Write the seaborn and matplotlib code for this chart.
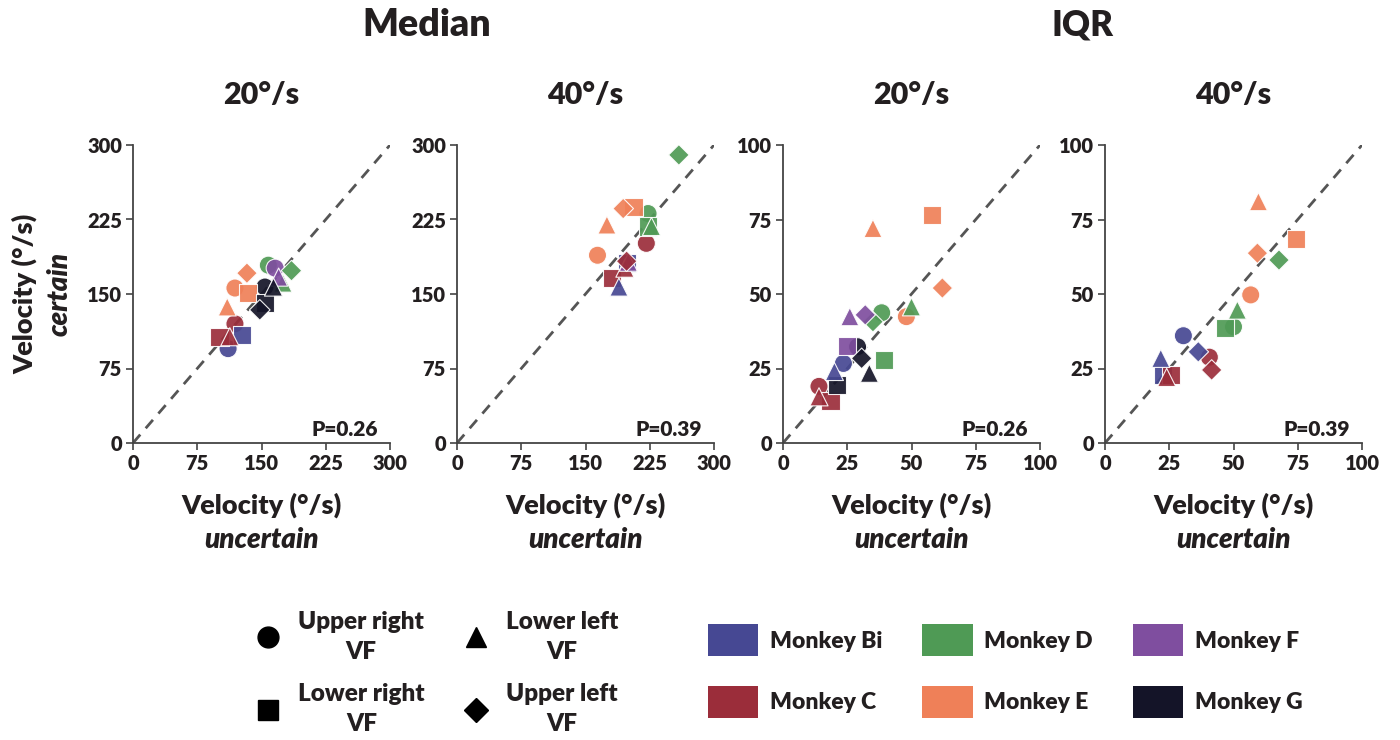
import numpy as np
import pandas as pd
import matplotlib
matplotlib.use("Agg")
import matplotlib.pyplot as plt
import seaborn as sns
from matplotlib.lines import Line2D
from matplotlib.patches import Patch

# ---------------- data ----------------
monkeys = ["Monkey Bi", "Monkey C", "Monkey D", "Monkey E", "Monkey F", "Monkey G"]
vf_labels = ["Upper right\nVF", "Lower right\nVF", "Lower left\nVF", "Upper left\nVF"]
monkey_colors = ["#464893", "#9B2D3A", "#4F9A55", "#EF8058", "#7F4E9F", "#141428"]
nan = np.nan

# order: for each monkey -> [UR, LR, LL, UL]
med20_x = [111, 127, nan, nan,   119, 101, 113, nan,   158, nan, 175, 185,
           119, 134.5, 110, 133,  166, nan, 170, nan,   154, 154, 164, 148]
med20_y = [95, 109, nan, nan,    120, 107, 107, nan,   179, nan, 161, 173.5,
           156, 151, 137, 171,    176, nan, 167, nan,   157, 141, 157, 134]

med40_x = [nan, 198, 189, nan,   221, 180.5, 196, 198,  223, 223, 227, 259,
           164, 206, 175, 194,   nan, nan, 200, nan,    nan, nan, nan, nan]
med40_y = [nan, 181, 157, nan,   201, 166, 176, 183,    231, 218, 218, 290,
           189, 238, 219.5, 236, nan, nan, 182, nan,    nan, nan, nan, nan]

iqr20_x = [23.5, nan, 20, nan,   14, 18.5, 14, nan,     38.4, 39.3, 50, 35,
           48, 57.9, 35, 62,     nan, 24.8, 26, 32,     29, 21, 33.6, 30.6]
iqr20_y = [26.7, nan, 24, nan,   19, 14.2, 15.5, nan,   43.7, 28, 45.7, 40.7,
           42.4, 76.5, 72, 52,   nan, 32.5, 42.4, 43,   32.3, 19.5, 23.4, 28.4]

iqr40_x = [30.5, 22.7, 21.7, 36.3,  40.6, 25.6, 24, 41.5,  50, 46.7, 51.5, 67.7,
           56.7, 74.3, 59.7, 59.3,  nan, nan, nan, nan,    nan, nan, nan, nan]
iqr40_y = [36, 22.8, 28.4, 30.6,    28.8, 22.8, 22, 24.5,  39, 38.5, 44.6, 61.4,
           49.7, 68.4, 81, 63.7,    nan, nan, nan, nan,    nan, nan, nan, nan]

p_values = ["P=0.26", "P=0.39", "P=0.26", "P=0.39"]
speed_titles = ["20°/s", "40°/s", "20°/s", "40°/s"]
median_ticks = [0, 75, 150, 225, 300]
iqr_ticks = [0, 25, 50, 75, 100]

# ---------------- style ----------------
sns.set_theme(style="ticks")
FONT = ["Lato", "DejaVu Sans"]
plt.rcParams["font.family"] = FONT
plt.rcParams["font.weight"] = "bold"
TXT = "#231f20"
WT = "heavy"

palette = dict(zip(monkeys, monkey_colors))
vf_markers = dict(zip(vf_labels, ["o", "s", "^", "D"]))
vf_sizes = dict(zip(vf_labels, [170, 170, 170, 110]))


def make_df(xs, ys):
    m = [mk for mk in monkeys for _ in vf_labels]
    v = [vf for _ in monkeys for vf in vf_labels]
    df = pd.DataFrame({"monkey": m, "vf": v, "x": xs, "y": ys})
    return df.dropna()


panels = [
    (make_df(med20_x, med20_y), median_ticks),
    (make_df(med40_x, med40_y), median_ticks),
    (make_df(iqr20_x, iqr20_y), iqr_ticks),
    (make_df(iqr40_x, iqr40_y), iqr_ticks),
]

fig = plt.figure(figsize=(14, 7.4), dpi=100)
W, H = 1400, 740
lefts = [133, 457, 783, 1105]
aw, top, bottom = 257, 145, 443

axes = []
for i, (df, ticks) in enumerate(panels):
    ax = fig.add_axes([lefts[i] / W, (H - bottom) / H, aw / W, (bottom - top) / H])
    axes.append(ax)
    lim = ticks[-1]
    ax.axline((0, 0), slope=1, ls=(0, (4, 3)), color="#555555", lw=2, zorder=1)
    for vf in vf_labels:
        sub = df[df["vf"] == vf]
        sns.scatterplot(data=sub, x="x", y="y", hue="monkey", palette=palette,
                        marker=vf_markers[vf], s=vf_sizes[vf], edgecolor="white",
                        linewidth=0.8, alpha=0.92, legend=False, ax=ax, zorder=3)
    ax.set_xlim(0, lim)
    ax.set_ylim(0, lim)
    ax.set_xticks(ticks)
    ax.set_yticks(ticks)
    ax.set_xticklabels([str(t) for t in ticks])
    ax.set_yticklabels([str(t) for t in ticks])
    ax.tick_params(labelsize=14.5, length=5, width=1.2, color="#444444",
                   labelcolor=TXT, pad=3)
    for lab in ax.get_xticklabels() + ax.get_yticklabels():
        lab.set_fontweight(WT)
    for s in ["top", "right"]:
        ax.spines[s].set_visible(False)
    for s in ["left", "bottom"]:
        ax.spines[s].set_color("#444444")
        ax.spines[s].set_linewidth(1.3)
    ax.set_xlabel("")
    ax.set_ylabel("")
    ax.text(0.5, -0.208, "Velocity (°/s)", transform=ax.transAxes, ha="center",
            va="center", fontsize=19.5, fontweight=WT, color=TXT)
    ax.text(0.5, -0.326, "uncertain", transform=ax.transAxes, ha="center",
            va="center", fontsize=20, fontweight=WT, style="italic", color=TXT)
    ax.text(0.5, 1.168, speed_titles[i], transform=ax.transAxes, ha="center",
            va="center", fontsize=22, fontweight=WT, color=TXT)
    ax.text(0.953, 0.044, p_values[i], transform=ax.transAxes, ha="right",
            va="center", fontsize=15, fontweight=WT, color=TXT)

axes[0].text(-0.42, 0.5, "Velocity (°/s)", transform=axes[0].transAxes, rotation=90,
             ha="center", va="center", fontsize=19.5, fontweight=WT, color=TXT)
axes[0].text(-0.284, 0.5, "certain", transform=axes[0].transAxes, rotation=90,
             ha="center", va="center", fontsize=20, fontweight=WT,
             style="italic", color=TXT)

fig.text(427 / W, 1 - 25 / H, "Median", ha="center", va="center", fontsize=27,
         fontweight=WT, color=TXT)
fig.text(1083 / W, 1 - 25 / H, "IQR", ha="center", va="center", fontsize=25,
         fontweight=WT, color=TXT)

# ---------------- legends ----------------
shape_handles = [Line2D([], [], ls="", marker=vf_markers[v], color="black",
                        markersize=(15 if vf_markers[v] != "D" else 12))
                 for v in vf_labels]
leg1 = fig.legend(shape_handles, vf_labels, loc="center", ncol=2,
                  bbox_to_anchor=(437 / W, 1 - 673 / H), frameon=False,
                  prop={"family": FONT, "weight": WT, "size": 17.5},
                  labelspacing=0.85, columnspacing=1.6, handletextpad=0.75,
                  handlelength=1.0)
for t in leg1.get_texts():
    t.set_multialignment("center")
    t.set_linespacing(1.45)
    t.set_color(TXT)

color_handles = [Patch(facecolor=c, edgecolor="none") for c in monkey_colors]
leg2 = fig.legend(color_handles, monkeys, loc="center", ncol=3,
                  bbox_to_anchor=(1005 / W, 1 - 671 / H), frameon=False,
                  prop={"family": FONT, "weight": WT, "size": 16.5},
                  labelspacing=1.3, columnspacing=1.75, handletextpad=0.5,
                  handlelength=2.2, handleheight=1.75)
for t in leg2.get_texts():
    t.set_color(TXT)

fig.savefig("out.png", dpi=100, facecolor="white")
